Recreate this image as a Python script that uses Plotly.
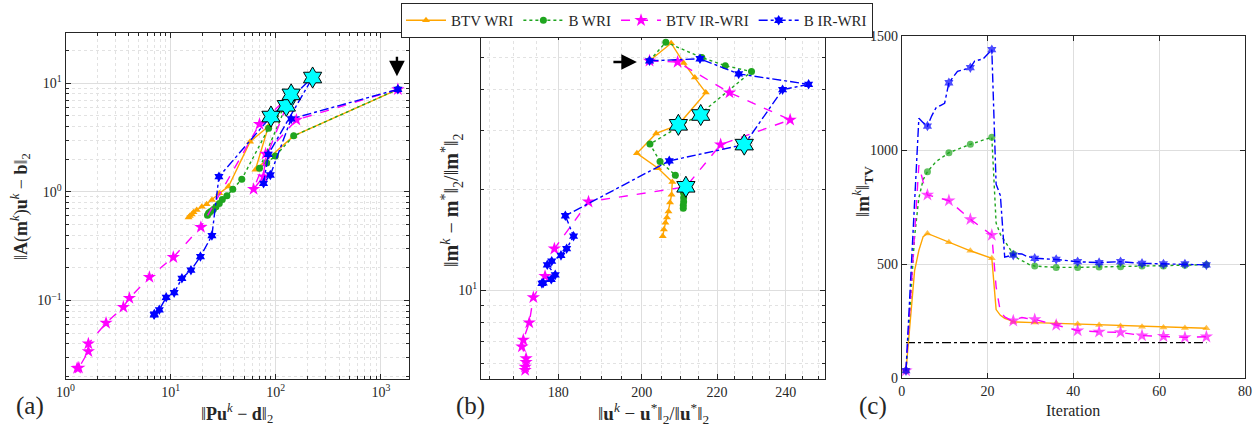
import numpy as np
import plotly.graph_objects as go

# ---------------- Panel (a): data misfit vs source misfit (log-log) ----------------
a_btv_wri_x = [1450, 148, 64, 85, 57, 35.5, 29, 24.7, 22, 19.8, 17.7, 16.5, 15.9, 15.2, 14.8]
a_btv_wri_y = [8.8, 3.28, 1.6, 4.0, 2.9, 1.12, 0.97, 0.84, 0.77, 0.73, 0.68, 0.65, 0.62, 0.60, 0.58]

a_b_wri_x = [1450, 148, 99, 82, 70, 125, 85.5, 47.5, 39, 34.3, 31, 29, 27, 25.5, 24, 23, 22.4]
a_b_wri_y = [8.8, 3.28, 2.14, 1.84, 1.65, 6.1, 3.86, 1.31, 1.06, 0.92, 0.85, 0.78, 0.73, 0.69, 0.66, 0.64, 0.61]

a_btv_ir_x = [1450, 157, 80, 76.5, 61.5, 140, 70, 19.4, 10.6, 6.28, 4.05, 3.55, 2.43, 1.65, 1.65, 1.34, 1.29]
a_btv_ir_y = [8.8, 4.6, 2.24, 1.38, 1.06, 7.9, 4.2, 0.473, 0.25, 0.164, 0.105, 0.087, 0.062, 0.040, 0.034, 0.024, 0.0238]

a_b_ir_x = [1450, 140, 88.7, 76.5, 85, 224, 90, 28.8, 24.7, 19.2, 15.6, 12.8, 10.8, 9.07, 7.8, 7.0, 6.96]
a_b_ir_y = [8.8, 4.7, 1.43, 1.2, 2.22, 11.3, 4.94, 1.38, 0.396, 0.254, 0.19, 0.16, 0.118, 0.107, 0.082, 0.075, 0.0738]

a_cyan_x = [90, 126, 140, 224]
a_cyan_y = [4.94, 6.2, 7.9, 11.3]

# ---------------- Panel (b): model error vs wavefield error ----------------
b_btv_wri_x = [202, 207.6, 210.9, 213.9, 216.9, 209.5, 203.7, 198.8, 204.2, 207.9, 207.7, 207.3, 206.9, 206.5, 206.1, 205.7, 205.4]
b_btv_wri_y = [48.7, 55.0, 48.0, 43.4, 39.1, 31.3, 29.5, 25.7, 23.2, 21.1, 19.3, 18.3, 17.2, 16.5, 15.9, 15.2, 14.5]

b_b_wri_x = [202, 206.2, 215.8, 222.3, 229.8, 215.3, 202.1, 204.7, 208.7, 210.9, 210.9, 210.9, 210.8, 210.8]
b_b_wri_y = [48.7, 55.4, 49.8, 47.1, 45.2, 33.7, 27.4, 24.3, 22.1, 19.5, 18.9, 18.4, 17.97, 17.6]

b_btv_ir_x = [202, 209.3, 223.5, 241.3, 221.0, 211.5, 187.0, 179.1, 177.0, 174.4, 173.5, 172.2, 171.9, 172.8, 172.8, 172.6, 172.6]
b_btv_ir_y = [48.7, 48.3, 39.1, 32.4, 27.3, 20.4, 18.4, 13.3, 11.0, 9.5, 7.98, 7.08, 6.76, 6.23, 6.07, 5.88, 5.75]

b_b_ir_x = [202, 215.3, 226.1, 247.0, 239.0, 227.7, 207.1, 181.6, 183.5, 181.9, 180.6, 178.5, 177.5, 179.3, 178.4, 176.6, 176.3]
b_b_ir_y = [48.7, 49.4, 44.5, 41.4, 39.9, 27.3, 24.4, 16.7, 14.5, 13.3, 12.7, 12.2, 11.9, 11.1, 10.77, 10.5, 10.47]

b_cyan_x = [209.5, 215.5, 227.7, 211.5]
b_cyan_y = [31.3, 33.5, 27.3, 20.4]

# ---------------- Panel (c): TV norm vs iteration ----------------
c_btv_wri_it = [1, 2, 3, 4, 5, 6, 11, 16, 21, 22, 23, 24, 25, 26, 31, 36, 41, 46, 51, 56, 61, 66, 71]
c_btv_wri_v = [32, 250, 470, 560, 620, 634, 595, 558, 525, 300, 275, 262, 255, 246, 243, 240, 237, 232, 228, 225, 222, 219, 218]

c_b_wri_it = [1, 2, 3, 4, 5, 6, 8, 11, 16, 21, 22, 23, 24, 25, 26, 27, 28, 29, 30, 31, 36, 41, 46, 51, 56, 61, 66, 71]
c_b_wri_v = [32, 330, 620, 790, 870, 905, 949, 988, 1025, 1056, 680, 630, 600, 570, 544, 525, 515, 503, 495, 491, 485, 485, 487, 488, 491, 491, 494, 497]

c_btv_ir_it = [1, 2, 3, 4, 5, 6, 11, 16, 21, 22, 23, 24, 25, 26, 27, 28, 29, 30, 31, 36, 41, 46, 51, 56, 61, 66, 71]
c_btv_ir_v = [32, 320, 640, 934, 860, 803, 778, 696, 627, 400, 290, 268, 258, 251, 260, 265, 262, 258, 257, 232, 208, 202, 200, 186, 183, 178, 181]

c_b_ir_it = [1, 4, 5, 6, 7, 8, 9, 10, 11, 12, 13, 14, 15, 16, 17, 18, 19, 20, 21, 22, 23, 24, 25, 26, 27, 28, 29, 30, 31, 36, 41, 46, 51, 56, 61, 66, 71]
c_b_ir_v = [32, 1139, 1120, 1105, 1150, 1185, 1195, 1205, 1295, 1320, 1345, 1350, 1355, 1361, 1390, 1395, 1400, 1420, 1440, 850, 800, 530, 535, 539, 545, 544, 535, 530, 525, 520, 510, 506, 510, 503, 500, 500, 496]

c_ref_it = [1, 71]
c_ref_v = [155, 155]

names = ["BTV WRI", "B WRI", "BTV IR-WRI", "B IR-WRI"]

# ---------------- styling ----------------
FONT = "Liberation Serif"
W, H = 1255, 431
INK = "#262626"
styles = [
    dict(color="#FFA500", dash="solid", symbol="triangle-up", size=7),
    dict(color="#1FA51F", dash="dot", symbol="circle", size=7),
    dict(color="#FF00FF", dash="dash", symbol="star", size=10),
    dict(color="#0000FF", dash="dashdot", symbol="hexagram", size=8),
]

fig = go.Figure()

def add_series(x, y, xa, ya, k, showlegend, sizes=None):
    s = styles[k]
    fig.add_trace(go.Scatter(
        x=x, y=y, xaxis=xa, yaxis=ya, mode="lines+markers", name=names[k],
        legendgroup=names[k], showlegend=showlegend,
        line=dict(color=s["color"], dash=s["dash"], width=1.4),
        marker=dict(symbol=s["symbol"], size=sizes if sizes is not None else s["size"],
                    color=s["color"], line=dict(width=0)),
    ))

def add_cyan(x, y, xa, ya):
    fig.add_trace(go.Scatter(
        x=x, y=y, xaxis=xa, yaxis=ya, mode="markers", showlegend=False,
        marker=dict(symbol="hexagram", size=16, color="#00FFFF", line=dict(color="black", width=1)),
    ))

# panel (a)
for k, (x, y) in enumerate([(a_btv_wri_x, a_btv_wri_y), (a_b_wri_x, a_b_wri_y),
                            (a_btv_ir_x, a_btv_ir_y), (a_b_ir_x, a_b_ir_y)]):
    add_series(x, y, "x", "y", k, True)
add_cyan(a_cyan_x, a_cyan_y, "x", "y")

# panel (b)
for k, (x, y) in enumerate([(b_btv_wri_x, b_btv_wri_y), (b_b_wri_x, b_b_wri_y),
                            (b_btv_ir_x, b_btv_ir_y), (b_b_ir_x, b_b_ir_y)]):
    add_series(x, y, "x2", "y2", k, False)
add_cyan(b_cyan_x, b_cyan_y, "x2", "y2")

# panel (c)
fig.add_trace(go.Scatter(x=c_ref_it, y=c_ref_v, xaxis="x3", yaxis="y3", mode="lines",
                         showlegend=False, line=dict(color="black", dash="dashdot", width=1.3)))
for k, (it, v) in enumerate([(c_btv_wri_it, c_btv_wri_v), (c_b_wri_it, c_b_wri_v),
                             (c_btv_ir_it, c_btv_ir_v), (c_b_ir_it, c_b_ir_v)]):
    sizes = [styles[k]["size"] if (i - 1) % 5 == 0 else 0 for i in it]
    add_series(it, v, "x3", "y3", k, False, sizes)

tickfont = dict(family=FONT, size=14, color=INK)
def axis(**kw):
    d = dict(showline=True, linecolor=INK, linewidth=1, mirror="ticks", ticks="inside",
             ticklen=5, tickcolor=INK, tickfont=tickfont, showgrid=True,
             gridcolor="#dedede", gridwidth=1, zeroline=False, automargin=False)
    d.update(kw)
    return d

def minor(vals):
    return dict(tickmode="array", tickvals=vals, ticks="inside", ticklen=3, tickcolor=INK,
                showgrid=True, gridcolor="#e2e2e2", griddash="dot", gridwidth=1)

a_xminor = [m * 10 ** e for e in range(0, 4) for m in range(2, 10)]
a_yminor = [m * 10 ** e for e in range(-2, 2) for m in range(2, 10)]
b_xminor = [v for v in range(165, 255, 5) if v not in (180, 200, 220, 240)]
b_yminor = [6, 7, 8, 9, 20, 30, 40, 50]

def sup(e):
    return "10<sup>%s</sup>" % (str(e).replace("-", "\u2212"))

fig.update_layout(
    width=W, height=H, template="none", paper_bgcolor="white", plot_bgcolor="white",
    margin=dict(l=0, r=0, t=0, b=0, autoexpand=False),
    font=dict(family=FONT, color=INK),
    xaxis=axis(domain=[65.5 / W, 409 / W], type="log", range=[0, 3.267], anchor="y",
               tickvals=[1, 10, 100, 1000], ticktext=[sup(0), sup(1), sup(2), sup(3)],
               minor=minor(a_xminor)),
    yaxis=axis(domain=[1 - 379 / H, 1 - 33 / H], type="log", range=[-1.723, 1.463], anchor="x",
               tickvals=[0.1, 1, 10], ticktext=[sup(-1), sup(0), sup(1)],
               minor=minor(a_yminor)),
    xaxis2=axis(domain=[481 / W, 825 / W], type="log", range=[2.2128, 2.4017], anchor="y2",
                tickvals=[180, 200, 220, 240], ticktext=["180", "200", "220", "240"],
                minor=minor(b_xminor)),
    yaxis2=axis(domain=[1 - 379 / H, 1 - 35 / H], type="log", range=[0.733, 1.765], anchor="x2",
                tickvals=[10], ticktext=[sup(1)], minor=minor(b_yminor)),
    xaxis3=axis(domain=[901.7 / W, 1245 / W], range=[0, 80], dtick=20, tick0=0, anchor="y3"),
    yaxis3=axis(domain=[1 - 378 / H, 1 - 36 / H], range=[0, 1500], dtick=500, tick0=0, anchor="x3"),
    legend=dict(orientation="h", x=637 / W, xanchor="center", y=1 - 3 / H, yanchor="top",
                bordercolor=INK, borderwidth=1, bgcolor="white",
                font=dict(family=FONT, size=15, color=INK), itemwidth=40, tracegroupgap=0),
)

def label(text, x, y, size=15, angle=0):
    fig.add_annotation(text=text, x=x / W, y=1 - y / H, xref="paper", yref="paper",
                       showarrow=False, textangle=angle, xanchor="center", yanchor="middle",
                       font=dict(family=FONT, size=size, color=INK))

label("\u2016<b>A</b>(<b>m</b><sup><i>k</i></sup>)<b>u</b><sup><i>k</i></sup> \u2212 <b>b</b>\u2016<sub>2</sub>", 20, 207, 18, -90)
label("\u2016<b>Pu</b><sup><i>k</i></sup> \u2212 <b>d</b>\u2016<sub>2</sub>", 237, 413, 18)
label("\u2016<b>m</b><sup><i>k</i></sup> \u2212 <b>m</b><sup>*</sup>\u2016<sub>2</sub>/\u2016<b>m</b><sup>*</sup>\u2016<sub>2</sub>", 452, 200, 20, -90)
label("\u2016<b>u</b><sup><i>k</i></sup> \u2212 <b>u</b><sup>*</sup>\u2016<sub>2</sub>/\u2016<b>u</b><sup>*</sup>\u2016<sub>2</sub>", 653, 413, 19)
label("\u2016<b>m</b><sup><i>k</i></sup>\u2016<sub><b>TV</b></sub>", 862, 192, 19, -90)
label("Iteration", 1073, 410, 16)
label("(a)", 30, 406, 25)
label("(b)", 470, 406, 25)
label("(c)", 873, 406, 25)

# start-point arrows
fig.add_annotation(x=np.log10(1420), y=np.log10(11.6), xref="x", yref="y", text="",
                   showarrow=True, arrowhead=2, arrowsize=1.3, arrowwidth=2.4, arrowcolor="black",
                   ax=0, ay=-21)
fig.add_annotation(x=np.log10(198.8), y=np.log10(48.3), xref="x2", yref="y2", text="",
                   showarrow=True, arrowhead=2, arrowsize=1.3, arrowwidth=2.4, arrowcolor="black",
                   ax=-25, ay=0)

fig.write_html("out.html", config={"displayModeBar": False},
               post_script="document.body.style.margin='0';document.body.style.overflow='hidden';")
